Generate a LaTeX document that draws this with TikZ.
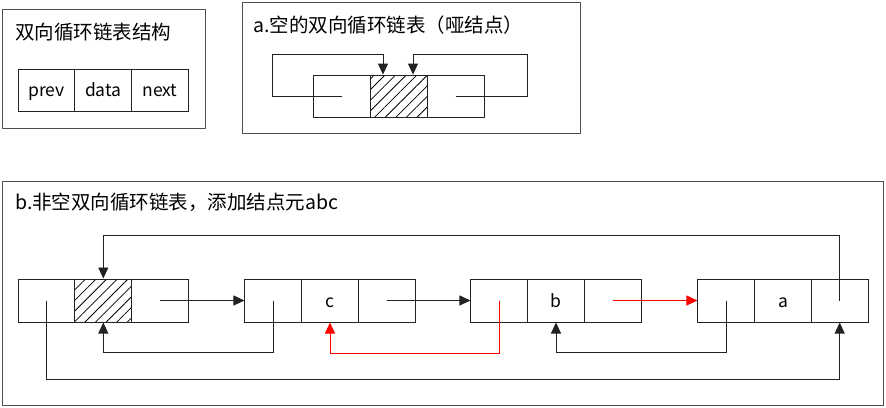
\documentclass[tikz,border=0pt]{standalone}
\usepackage{fontspec}
\setmainfont{Noto Sans CJK SC}
\usetikzlibrary{arrows.meta,patterns.meta,calc}
\definecolor{ln}{HTML}{222222}
\tikzset{
  frame/.style={draw=ln!80, line width=1pt},
  cell/.style={draw=ln, line width=1pt, rectangle, inner sep=0pt, minimum width=56.7pt, minimum height=43pt, text height=13pt, text depth=0pt, font=\fontsize{17.5}{20}\selectfont},
  smallcell/.style={cell, minimum height=42pt},
  hatch/.style={pattern={Lines[angle=45,distance=7.5pt,line width=0.8pt]}},
  title/.style={anchor=west, inner sep=0pt, font=\fontsize{19.5}{23}\selectfont},
  conn/.style={draw=ln, line width=0.9pt, -{Triangle[length=11pt,width=10pt]}},
  redconn/.style={conn, draw=red, -{Triangle[length=11pt,width=10pt,fill=red]}},
}
\begin{document}
\begin{tikzpicture}[x=1pt,y=-1pt]
\useasboundingbox (0,0) rectangle (886,407);
% box 1
\draw[frame] (2,9) rectangle (205,128);
\node[title] (t1) at (15,32) {双向循环链表结构};
\node[smallcell] (s1) at (46.5,90) {prev};
\node[smallcell] (s2) at (103.3,90) {data};
\node[smallcell] (s3) at (160,90) {next};
% box 2
\draw[frame] (242,2) rectangle (580,133);
\node[title] (t2) at (253,25) {a.空的双向循环链表（哑结点）};
\node[smallcell] (e1) at (342.3,96) {};
\node[smallcell,hatch] (e2) at (399,96) {};
\node[smallcell] (e3) at (455.7,96) {};
\coordinate (eL) at ($(e2.north)+(-16,0)$);
\coordinate (eR) at ($(e2.north)+(14,0)$);
\draw[conn] (e1.center) -- (272,96) -- (272,54) -| (eL);
\draw[conn] (e3.center) -- (527,96) -- (527,54) -| (eR);
% box 3
\draw[frame] (2,181) rectangle (883,405);
\node[title] (t3) at (15,202) {b.非空双向循环链表，添加结点元abc};
% node 1 (head)
\node[cell] (h1) at (46.5,300.5) {};
\node[cell,hatch] (h2) at (103.3,300.5) {};
\node[cell] (h3) at (160,300.5) {};
% node c
\node[cell] (c1) at (273.3,300.5) {};
\node[cell] (c2) at (330,300.5) {c};
\node[cell] (c3) at (386.7,300.5) {};
% node b
\node[cell] (b1) at (499.3,300.5) {};
\node[cell] (b2) at (556,300.5) {b};
\node[cell] (b3) at (612.7,300.5) {};
% node a
\node[cell] (a1) at (726.3,300.5) {};
\node[cell] (a2) at (783,300.5) {a};
\node[cell] (a3) at (839.7,300.5) {};
% next links
\draw[conn] (h3.center) -- (c1.west);
\draw[conn] (c3.center) -- (b1.west);
\draw[redconn] (b3.center) -- (a1.west);
% prev links
\draw[conn] (c1.center) -- ++(0,51.5) -| (h2.south);
\draw[redconn] (b1.center) -- ++(0,52.5) -| (c2.south);
\draw[conn] (a1.center) -- ++(0,51.5) -| (b2.south);
% circular links
\draw[conn] (h1.center) -- ++(0,78.5) -| (a3.south);
\draw[conn] (a3.center) -- ++(0,-65.5) -| (h2.north);
\end{tikzpicture}
\end{document}
